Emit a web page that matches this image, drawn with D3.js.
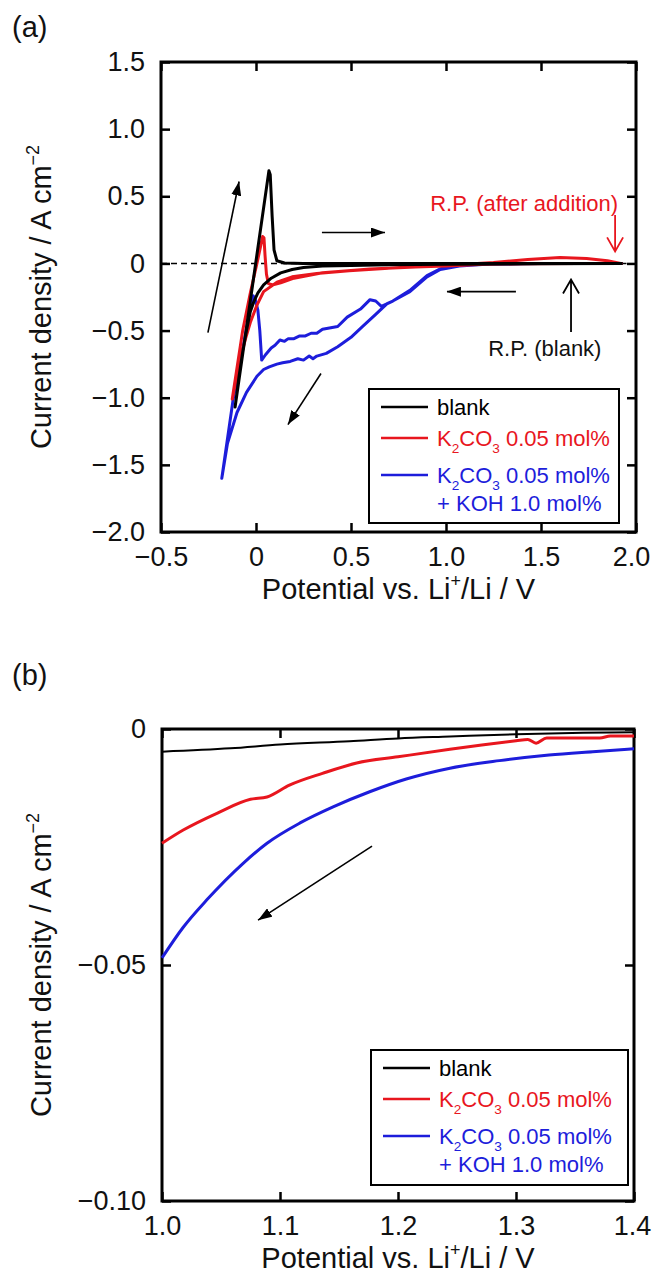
<!DOCTYPE html>
<html>
<head>
<meta charset="utf-8">
<script src="https://cdn.jsdelivr.net/npm/d3@7"></script>
<style>
  body { margin: 0; background: #fff; }
  svg { display: block; }
  text { font-family: "Liberation Sans", Arial, sans-serif; }
</style>
</head>
<body>
<div id="chart"></div>
<script>
const RED = "#e8161e", BLUE = "#1d1ddb";

// panel (a): cyclic voltammograms, [E / V, j / A cm-2] in sweep order
const blankCV = [
  [1.93, 0], [1.5, -0.003], [1.0, -0.006], [0.7, -0.01], [0.5, -0.015], [0.35, -0.02],
  [0.25, -0.03], [0.19, -0.045], [0.13, -0.07], [0.08, -0.11], [0.04, -0.16], [0.01, -0.22],
  [-0.01, -0.28], [-0.03, -0.36], [-0.05, -0.5], [-0.07, -0.66], [-0.09, -0.85], [-0.11, -1.07],
  [0.068, 0.69], [0.075, 0.66], [0.085, 0.35], [0.095, 0.1], [0.11, 0.02], [0.15, 0.003],
  [0.25, 0], [1.93, 0]
];
const k2co3CV = [
  [1.93, 0], [1.7, 0], [1.4, -0.002], [1.2, -0.006], [1.0, -0.02], [0.76, -0.03], [0.49, -0.055],
  [0.32, -0.075], [0.19, -0.1], [0.11, -0.14], [0.04, -0.21], [0.005, -0.31], [-0.03, -0.44],
  [-0.055, -0.56], [-0.08, -0.7], [-0.105, -0.87], [-0.125, -1.01],
  [-0.07, -0.5], [-0.03, -0.22], [0.005, 0], [0.035, 0.2], [0.042, 0.19], [0.048, 0.05],
  [0.055, -0.08], [0.065, -0.15], [0.09, -0.16], [0.13, -0.145], [0.2, -0.11], [0.35, -0.07],
  [0.6, -0.042], [0.9, -0.022], [1.1, -0.006], [1.25, 0.007], [1.43, 0.03], [1.6, 0.045],
  [1.74, 0.037], [1.85, 0.02], [1.92, 0]
];
const kohCV = [
  [1.93, 0], [1.5, -0.001], [1.23, -0.005], [1.07, -0.02], [0.97, -0.045], [0.9, -0.1],
  [0.81, -0.21], [0.72, -0.28], [0.69, -0.3], [0.63, -0.38], [0.56, -0.47], [0.5, -0.55],
  [0.43, -0.62], [0.37, -0.67], [0.32, -0.69], [0.3, -0.71], [0.28, -0.69], [0.25, -0.72],
  [0.22, -0.71], [0.18, -0.73], [0.14, -0.74], [0.11, -0.75], [0.07, -0.77], [0.04, -0.79],
  [0.005, -0.84], [-0.05, -0.96], [-0.1, -1.11], [-0.15, -1.34], [-0.18, -1.6],
  [-0.12, -1.01], [-0.07, -0.64], [-0.03, -0.33], [-0.016, -0.24], [-0.005, -0.26],
  [0.01, -0.35], [0.02, -0.5], [0.03, -0.72], [0.05, -0.68], [0.08, -0.63], [0.1, -0.61],
  [0.126, -0.57], [0.15, -0.58], [0.17, -0.56], [0.2, -0.56], [0.23, -0.54], [0.26, -0.54],
  [0.29, -0.52], [0.32, -0.52], [0.35, -0.49], [0.43, -0.47], [0.48, -0.4], [0.55, -0.34],
  [0.6, -0.27], [0.63, -0.28], [0.66, -0.32], [0.72, -0.28], [0.81, -0.2], [0.9, -0.09],
  [0.97, -0.04], [1.07, -0.015], [1.23, -0.003], [1.5, 0], [1.93, 0]
];

// panel (b): cathodic sweep close-up, [E / V, j / A cm-2]
const blankLSV = [
  [1.0, -0.0048], [1.058, -0.0041], [1.1, -0.0033], [1.159, -0.0026], [1.2, -0.002],
  [1.244, -0.0016], [1.3, -0.0011], [1.357, -0.0008], [1.4, -0.0007]
];
const k2co3LSV = [
  [1.0, -0.0242], [1.018, -0.0214], [1.047, -0.0178], [1.075, -0.0149], [1.089, -0.0144],
  [1.108, -0.0119], [1.136, -0.0094], [1.165, -0.0072], [1.2, -0.0059], [1.244, -0.0043],
  [1.271, -0.0034], [1.3, -0.0025], [1.31, -0.0022], [1.317, -0.003], [1.326, -0.0019],
  [1.371, -0.0019], [1.38, -0.0015], [1.4, -0.0015]
];
const kohLSV = [
  [1.0, -0.0485], [1.018, -0.042], [1.038, -0.0362], [1.069, -0.0284], [1.089, -0.0242],
  [1.117, -0.0199], [1.145, -0.0165], [1.176, -0.0133], [1.207, -0.0106], [1.244, -0.0083],
  [1.286, -0.0067], [1.328, -0.0055], [1.365, -0.0048], [1.4, -0.0042]
];

const xTicksA = [-0.5, 0, 0.5, 1.0, 1.5, 2.0];
const yTicksA = [1.5, 1.0, 0.5, 0, -0.5, -1.0, -1.5, -2.0];
const xTicksB = [1.0, 1.1, 1.2, 1.3, 1.4];
const yTicksB = [0, -0.05, -0.10];

const legendItems = [
  { color: "#000", lines: [[{ t: "blank" }]] },
  { color: RED, lines: [[{ t: "K" }, { t: "2", sub: true }, { t: "CO" }, { t: "3", sub: true }, { t: " 0.05 mol%" }]] },
  { color: BLUE, lines: [[{ t: "K" }, { t: "2", sub: true }, { t: "CO" }, { t: "3", sub: true }, { t: " 0.05 mol%" }],
                         [{ t: "+ KOH 1.0 mol%" }]] }
];

const W = 653, H = 1281;
const svg = d3.select("#chart").append("svg").attr("width", W).attr("height", H);

svg.append("defs").append("marker")
  .attr("id", "head")
  .attr("markerWidth", 14).attr("markerHeight", 10)
  .attr("refX", 14).attr("refY", 5)
  .attr("orient", "auto").attr("markerUnits", "userSpaceOnUse")
  .append("path").attr("d", "M0,0 L14,5 L0,10 Z").attr("fill", "#000");

// write text with sub/superscripts
function rich(text, parts, size) {
  let shift = 0;
  parts.forEach(p => {
    const ts = text.append("tspan").text(p.t);
    let target = 0;
    if (p.sub) target = size * 0.3;
    if (p.sup) target = -size * 0.4;
    if (target !== shift) ts.attr("dy", target - shift);
    if (p.sub || p.sup) ts.style("font-size", (size * 0.62) + "px");
    shift = target;
  });
}

function panel(cfg) {
  const x = d3.scaleLinear().domain(cfg.xDomain).range(cfg.xRange);
  const y = d3.scaleLinear().domain(cfg.yDomain).range(cfg.yRange);
  const g = svg.append("g");
  const [x0, x1] = cfg.xRange, [y0, y1] = cfg.yRange;

  // inward ticks on all four sides
  const bottom = g.append("g").attr("transform", `translate(0,${y1})`)
    .call(d3.axisBottom(x).tickValues(cfg.xTicks).tickFormat(cfg.xFmt)
      .tickSizeInner(-9).tickSizeOuter(0).tickPadding(15));
  g.append("g").attr("transform", `translate(0,${y0})`)
    .call(d3.axisTop(x).tickValues(cfg.xTicks).tickFormat("")
      .tickSizeInner(-9).tickSizeOuter(0));
  g.append("g").attr("transform", `translate(${x0},0)`)
    .call(d3.axisLeft(y).tickValues(cfg.yTicks).tickFormat(cfg.yFmt)
      .tickSizeInner(-9).tickSizeOuter(0).tickPadding(16));
  g.append("g").attr("transform", `translate(${x1},0)`)
    .call(d3.axisRight(y).tickValues(cfg.yTicks).tickFormat("")
      .tickSizeInner(-9).tickSizeOuter(0));
  g.selectAll(".domain").remove();
  g.selectAll(".tick line").attr("stroke", "#000").attr("stroke-width", 2.5);
  g.selectAll(".tick text").style("font-size", "27px").attr("fill", "#111");
  // last x label sits against the page edge
  const last = cfg.xTicks[cfg.xTicks.length - 1];
  bottom.selectAll(".tick text").filter(d => d === last).attr("dx", -cfg.lastShift);

  g.append("rect")
    .attr("x", x0).attr("y", y0).attr("width", x1 - x0).attr("height", y1 - y0)
    .attr("fill", "none").attr("stroke", "#000").attr("stroke-width", 3);

  // axis titles
  const xt = g.append("text")
    .attr("x", (x0 + x1) / 2).attr("y", cfg.xTitleY)
    .attr("text-anchor", "middle").style("font-size", "29px").attr("fill", "#111");
  rich(xt, cfg.xTitle, 29);
  const yt = g.append("text")
    .attr("transform", `translate(${cfg.yTitleX},${(y0 + y1) / 2}) rotate(-90)`)
    .attr("text-anchor", "middle").style("font-size", "29px").attr("fill", "#111");
  rich(yt, [{ t: "Current density / A cm" }, { t: "−2", sup: true }], 29);

  svg.append("text").attr("x", 12).attr("y", cfg.labelY)
    .style("font-size", "29px").attr("fill", "#111").text(cfg.label);

  return { g, x, y };
}

function legend(g, lx, ly, w, h) {
  g.append("rect").attr("x", lx).attr("y", ly).attr("width", w).attr("height", h)
    .attr("fill", "#fff").attr("stroke", "#000").attr("stroke-width", 2);
  const rows = [18, 49, 86];
  legendItems.forEach((it, i) => {
    const cy = ly + rows[i];
    g.append("line").attr("x1", lx + 12).attr("x2", lx + 59)
      .attr("y1", cy).attr("y2", cy).attr("stroke", it.color).attr("stroke-width", 2.5);
    it.lines.forEach((ln, j) => {
      const t = g.append("text").attr("x", lx + 68).attr("y", cy + 8 + j * 28)
        .style("font-size", "22px").attr("fill", it.color);
      rich(t, ln, 22);
    });
  });
}

function arrow(g, x, y, p0, p1, color, w) {
  g.append("line")
    .attr("x1", x(p0[0])).attr("y1", y(p0[1])).attr("x2", x(p1[0])).attr("y2", y(p1[1]))
    .attr("stroke", color || "#000").attr("stroke-width", w || 1.6)
    .attr("marker-end", "url(#head)");
}

// open chevron arrow (vertical)
function openArrow(g, x, y, xv, yFrom, yTo, color) {
  const px = x(xv), pa = y(yFrom), pb = y(yTo);
  const dir = pb > pa ? -1 : 1;
  g.append("path")
    .attr("d", `M${px},${pa} L${px},${pb} M${px - 8},${pb + dir * 14} L${px},${pb} L${px + 8},${pb + dir * 14}`)
    .attr("fill", "none").attr("stroke", color).attr("stroke-width", 1.8);
}

const fmt1 = v => v === 0 ? "0" : d3.format(".1f")(v);
const fmt2 = v => v === 0 ? "0" : d3.format(".2f")(v);

// ---------- panel (a)
const A = panel({
  xDomain: [-0.5, 2.0], xRange: [161, 636],
  yDomain: [1.5, -2.0], yRange: [62, 532],
  xTicks: xTicksA, yTicks: yTicksA, xFmt: fmt1, yFmt: fmt1, lastShift: 5,
  xTitle: [{ t: "Potential vs. Li" }, { t: "+", sup: true }, { t: "/Li / V" }],
  xTitleY: 599, yTitleX: 51, label: "(a)", labelY: 37
});

A.g.append("line")
  .attr("x1", A.x(-0.5)).attr("x2", A.x(1.95)).attr("y1", A.y(0)).attr("y2", A.y(0))
  .attr("stroke", "#000").attr("stroke-width", 1.5).attr("stroke-dasharray", "6,4");

const lineA = d3.line().x(d => A.x(d[0])).y(d => A.y(d[1]));
[[kohCV, BLUE], [k2co3CV, RED], [blankCV, "#000"]].forEach(([d, c]) => {
  A.g.append("path").datum(d).attr("d", lineA)
    .attr("fill", "none").attr("stroke", c).attr("stroke-width", 3)
    .attr("stroke-linejoin", "round");
});

arrow(A.g, A.x, A.y, [-0.253, -0.515], [-0.089, 0.61]);
arrow(A.g, A.x, A.y, [0.347, 0.23], [0.679, 0.23]);
arrow(A.g, A.x, A.y, [1.368, -0.21], [1.005, -0.21]);
arrow(A.g, A.x, A.y, [0.342, -0.82], [0.168, -1.2]);
openArrow(A.g, A.x, A.y, 1.89, 0.36, 0.09, RED);
openArrow(A.g, A.x, A.y, 1.658, -0.51, -0.12, "#000");

A.g.append("text").attr("x", A.x(1.89) + 3).attr("y", 211)
  .attr("text-anchor", "end").style("font-size", "22px").attr("fill", RED)
  .text("R.P. (after addition)");
A.g.append("text").attr("x", A.x(1.52)).attr("y", 356)
  .attr("text-anchor", "middle").style("font-size", "22px").attr("fill", "#111")
  .text("R.P. (blank)");

legend(A.g, 369, 389, 250, 134);

// ---------- panel (b)
const B = panel({
  xDomain: [1.0, 1.4], xRange: [162, 634],
  yDomain: [0, -0.10], yRange: [729, 1201],
  xTicks: xTicksB, yTicks: yTicksB, xFmt: fmt1, yFmt: fmt2, lastShift: 2,
  xTitle: [{ t: "Potential  vs. Li" }, { t: "+", sup: true }, { t: "/Li  / V" }],
  xTitleY: 1268, yTitleX: 51, label: "(b)", labelY: 685
});

const lineB = d3.line().curve(d3.curveMonotoneX).x(d => B.x(d[0])).y(d => B.y(d[1]));
[[kohLSV, BLUE, 3], [k2co3LSV, RED, 3], [blankLSV, "#000", 2]].forEach(([d, c, w]) => {
  B.g.append("path").datum(d).attr("d", lineB)
    .attr("fill", "none").attr("stroke", c).attr("stroke-width", w)
    .attr("stroke-linejoin", "round");
});

arrow(B.g, B.x, B.y, [1.178, -0.0248], [1.0814, -0.0405]);

legend(B.g, 371, 1050, 257, 135);
</script>
</body>
</html>
